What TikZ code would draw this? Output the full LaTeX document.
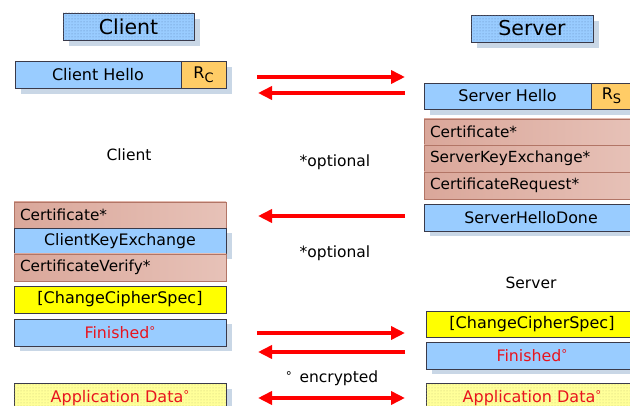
\documentclass[tikz,border=0pt]{standalone}
\usepackage{fontspec}
\setmainfont{DejaVu Sans}
\usetikzlibrary{arrows.meta,patterns,backgrounds}
\definecolor{bl}{HTML}{99CCFF}
\definecolor{shd}{HTML}{C9D7E6}
\definecolor{pk}{HTML}{DAA79A}
\definecolor{pkr}{HTML}{E7C2B8}
\definecolor{pkb}{HTML}{B27566}
\definecolor{yl}{HTML}{FFFF00}
\definecolor{ly}{HTML}{FFFF99}
\definecolor{og}{HTML}{FFCC66}
\definecolor{rd}{HTML}{FF0000}
\definecolor{tr}{HTML}{E8141E}
\definecolor{bd}{HTML}{3A3A4A}
\definecolor{dotb}{HTML}{5F86B8}
\definecolor{doty}{HTML}{C9C77A}
\newcommand{\dg}{\raisebox{3pt}{\fontsize{12}{12}\selectfont °}}
\begin{document}
\begin{tikzpicture}[x=1pt,y=-1pt,
  base/.style={draw=bd, line width=0.9pt, anchor=north west, inner sep=0pt, outer sep=0pt},
  blu/.style={base, fill=bl},
  title/.style={base, fill=bl, postaction={pattern=dots, pattern color=dotb}, font=\fontsize{20.5}{24}\selectfont},
  hello/.style={blu, font=\fontsize{16}{19}\selectfont},
  rbox/.style={base, fill=og, font=\fontsize{16}{19}\selectfont},
  pink/.style={base, draw=pkb, left color=pk, right color=pkr, text width=200pt, align=left, inner xsep=6pt, font=\fontsize{15.3}{18}\selectfont},
  pinks/.style={pink, text width=204pt},
  bmid/.style={blu, font=\fontsize{15.8}{18}\selectfont},
  ylw/.style={base, fill=yl, font=\fontsize{16}{19}\selectfont},
  appd/.style={base, fill=ly, postaction={pattern=dots, pattern color=doty}, font=\fontsize{16}{19}\selectfont, text=tr},
  lbl/.style={inner sep=0pt, font=\fontsize{15.5}{18}\selectfont},
  msg/.style={line width=4pt, draw=rd, -{Triangle[length=14pt,width=13pt]}},
  msgb/.style={line width=4pt, draw=rd, {Triangle[length=14pt,width=13pt]}-{Triangle[length=14pt,width=13pt]}},
  shadow/.style={fill=shd}
]
\useasboundingbox (0,0) rectangle (630,406);
\clip (0,0) rectangle (630,406);

% titles
\node[title, minimum width=131pt, minimum height=27pt] (ctitle) at (63,13) {Client};
\node[title, minimum width=122pt, minimum height=27pt] (stitle) at (471,15) {Server};

% client hello
\node[hello, minimum width=166pt, minimum height=27pt] (chello) at (15,61) {Client Hello};
\node[rbox, minimum width=45pt, minimum height=27pt] (rc) at (181,61) {R\raisebox{-4pt}{\fontsize{13}{13}\selectfont C}};

% server hello
\node[hello, minimum width=167pt, minimum height=26pt] (shello) at (424,83) {Server Hello};
\node[rbox, minimum width=41pt, minimum height=26pt] (rs) at (591,83) {R\raisebox{-4pt}{\fontsize{13}{13}\selectfont S}};

% server optional stack
\node[pinks, minimum height=26pt] (scert) at (424,119) {Certificate*};
\node[pinks, minimum height=27pt] (skx) at (424,145) {ServerKeyExchange*};
\node[pinks, minimum height=27pt] (screq) at (424,172) {CertificateRequest*};
\node[bmid, minimum width=214pt, minimum height=27pt] (shd) at (424,204) {ServerHelloDone};

% client stack
\node[pink, minimum height=26pt] (ccert) at (14,202) {Certificate*};
\node[bmid, minimum width=212pt, minimum height=26pt] (ckx) at (14,228) {ClientKeyExchange};
\node[pink, minimum height=27pt] (cver) at (14,254) {CertificateVerify*};
\node[ylw, minimum width=212pt, minimum height=27pt] (cccs) at (14,286) {[ChangeCipherSpec]};
\node[bmid, minimum width=212pt, minimum height=27pt, text=tr] (cfin) at (14,319) {Finished\dg};
\node[appd, minimum width=212pt, minimum height=30pt] (capp) at (14,383) {Application Data\dg};

% server final
\node[ylw, minimum width=212pt, minimum height=26pt] (sccs) at (426,311) {[ChangeCipherSpec]};
\node[bmid, minimum width=212pt, minimum height=27pt, text=tr] (sfin) at (426,342) {Finished\dg};
\node[appd, minimum width=212pt, minimum height=30pt] (sapp) at (426,383) {Application Data\dg};

% shadows
\begin{scope}[on background layer]
  \fill[shadow] ([shift={(6,6)}]ctitle.north west) rectangle ([shift={(6,6)}]ctitle.south east);
  \fill[shadow] ([shift={(6,6)}]stitle.north west) rectangle ([shift={(6,6)}]stitle.south east);
  \fill[shadow] ([shift={(6,6)}]chello.north west) rectangle ([shift={(6,6)}]rc.south east);
  \fill[shadow] ([shift={(6,6)}]shello.north west) rectangle ([shift={(6,6)}]rs.south east);
  \fill[shadow] ([shift={(6,5)}]shd.north west) rectangle ([shift={(6,5)}]shd.south east);
  \fill[shadow] ([shift={(6,5)}]ckx.north west) rectangle ([shift={(6,5)}]ckx.south east);
  \fill[shadow] ([shift={(6,5)}]cfin.north west) rectangle ([shift={(6,5)}]cfin.south east);
  \fill[shadow] ([shift={(6,5)}]sfin.north west) rectangle ([shift={(6,5)}]sfin.south east);
  \fill[shadow] ([shift={(6,6)}]capp.north west) rectangle ([shift={(6,6)}]capp.south east);
\end{scope}

% labels
\node[lbl] (lclient) at (129,155) {Client};
\node[lbl] (lopt1) at (335,162) {*optional};
\node[lbl] (lopt2) at (335,253) {*optional};
\node[lbl] (lserver) at (531,283) {Server};
\node[lbl] (lenc) at (332,378) {\raisebox{2pt}{\fontsize{12}{12}\selectfont °}\enspace encrypted};

% arrow ends
\coordinate (a1l) at (257,77);  \coordinate (a1r) at (405,77);
\coordinate (a2l) at (258,93);  \coordinate (a2r) at (405,93);
\coordinate (a3l) at (258,216); \coordinate (a3r) at (405,216);
\coordinate (a4l) at (257,333); \coordinate (a4r) at (405,333);
\coordinate (a5l) at (258,352); \coordinate (a5r) at (405,352);
\coordinate (a6l) at (258,398); \coordinate (a6r) at (405,398);

\draw[msg] (a1l) -- (a1r);
\draw[msg] (a2r) -- (a2l);
\draw[msg] (a3r) -- (a3l);
\draw[msg] (a4l) -- (a4r);
\draw[msg] (a5r) -- (a5l);
\draw[msgb] (a6l) -- (a6r);
\end{tikzpicture}
\end{document}
